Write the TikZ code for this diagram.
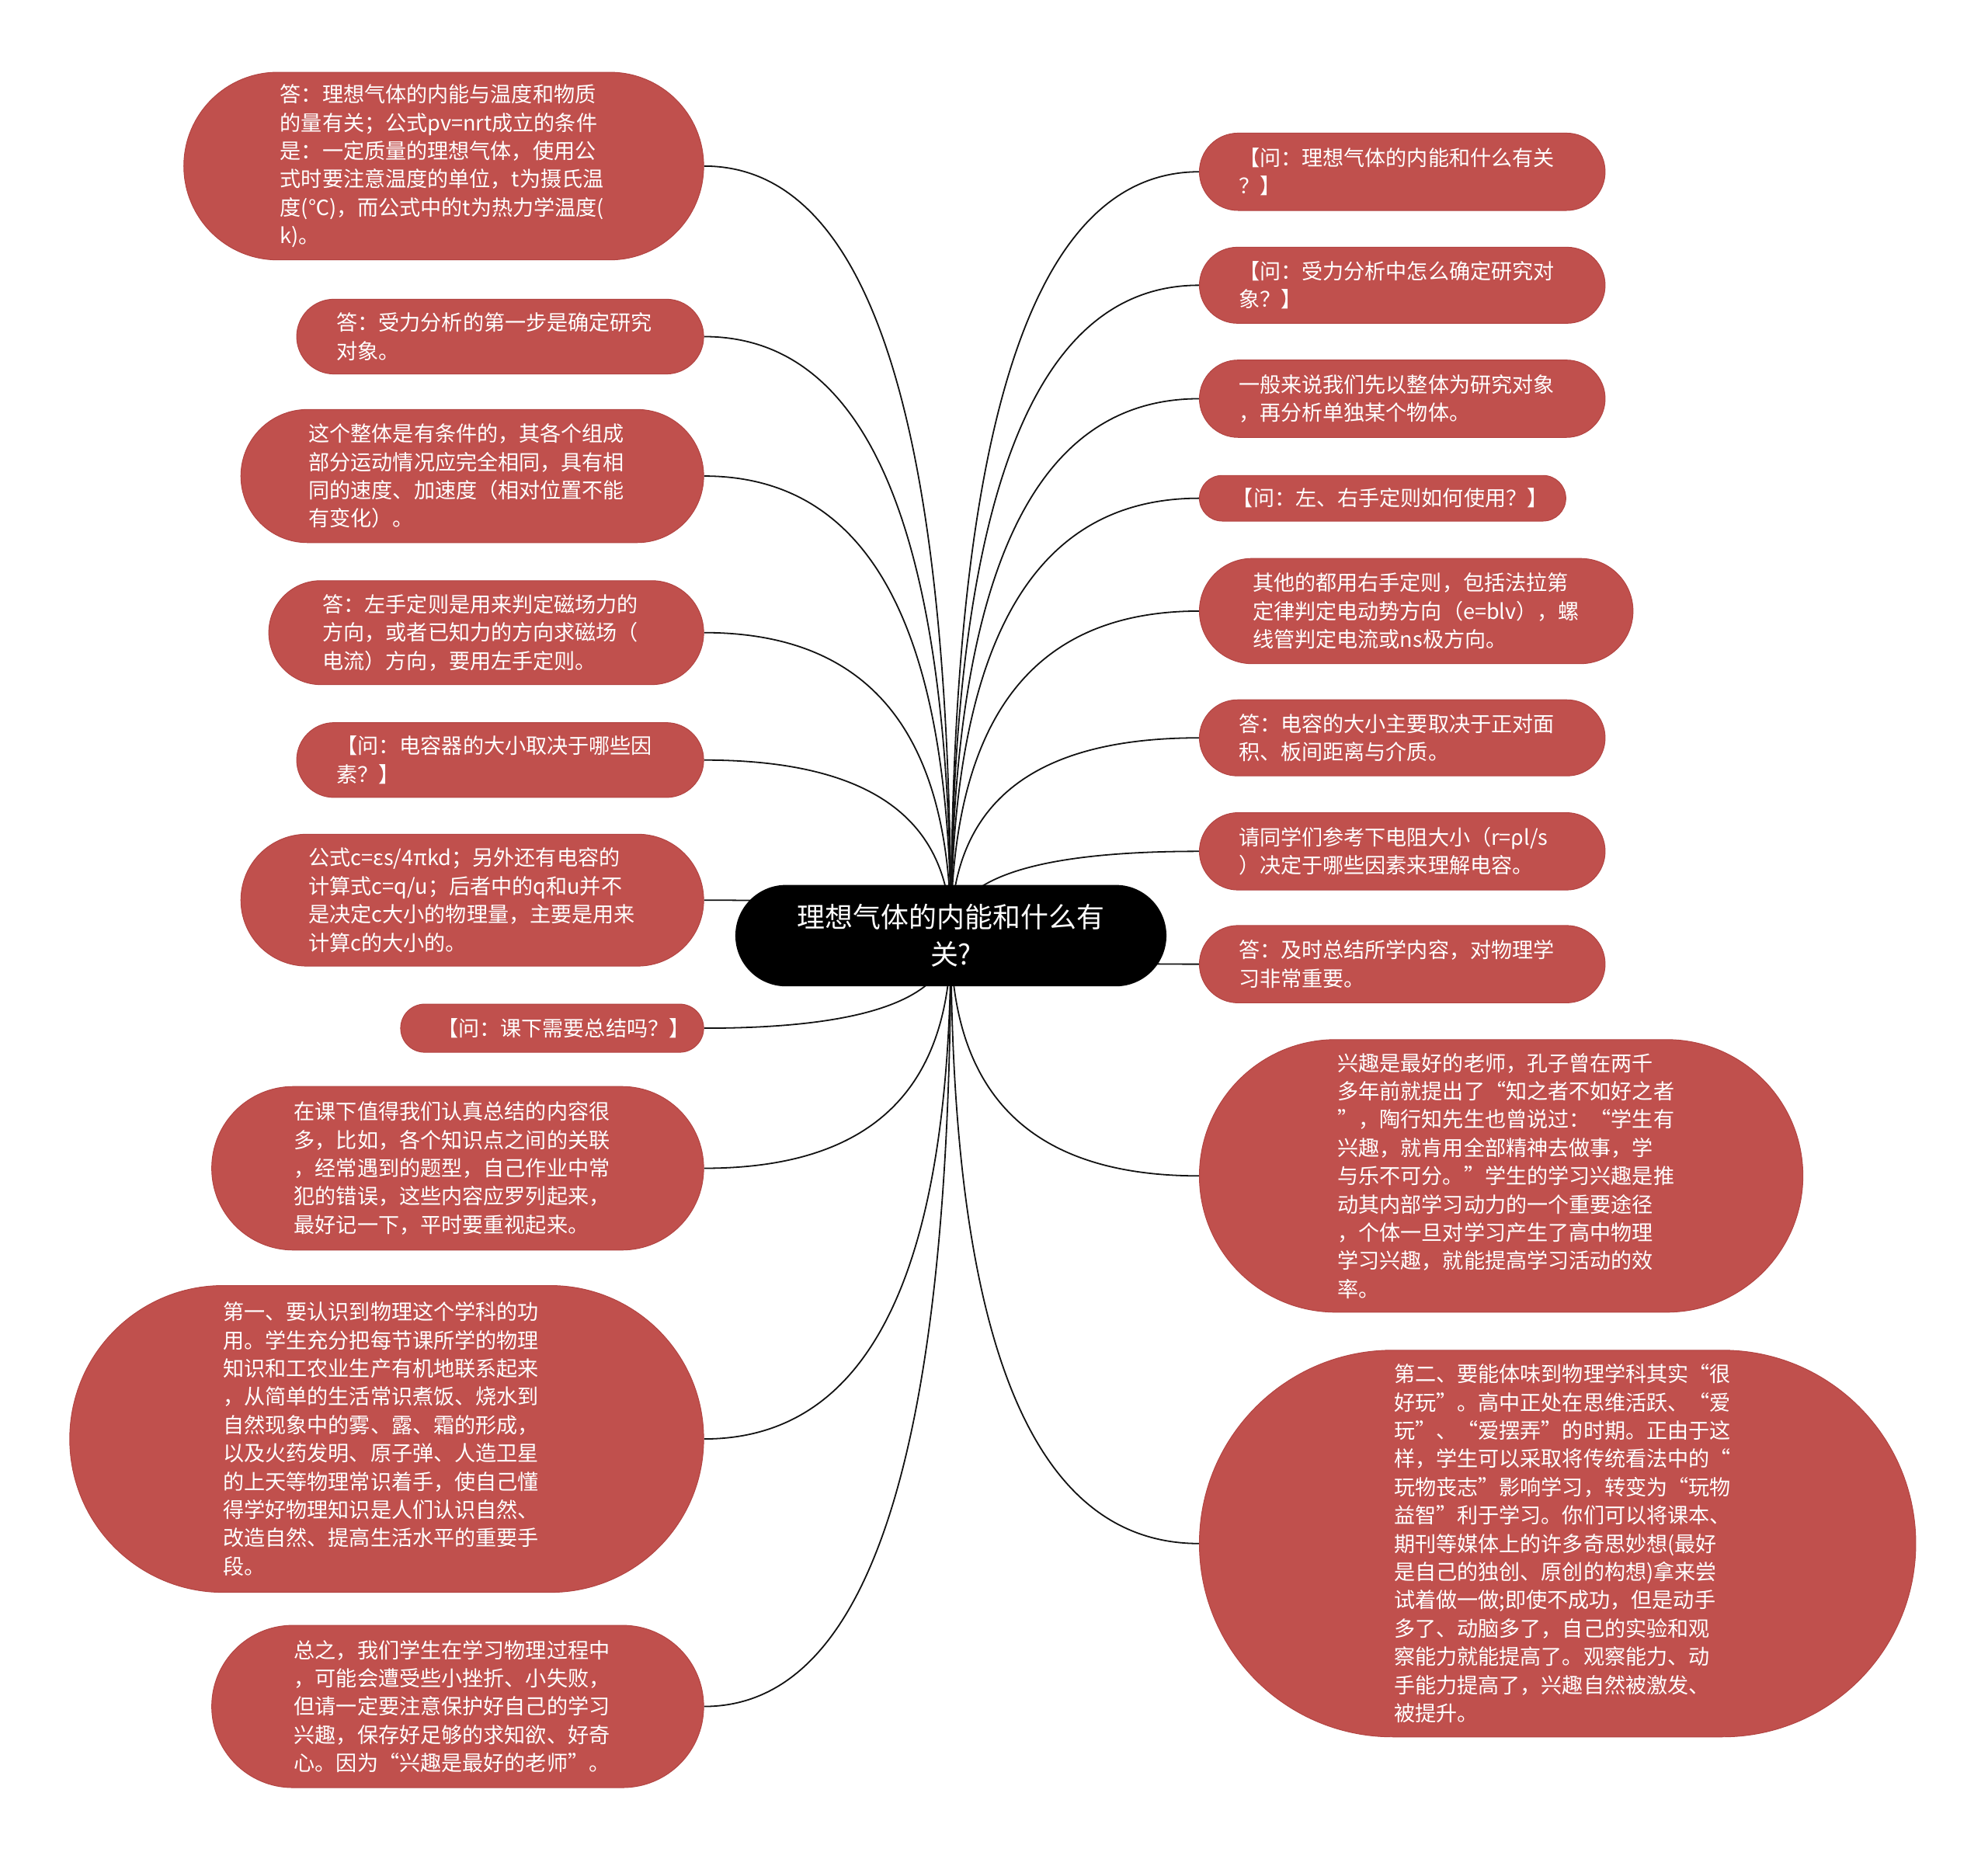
\documentclass[tikz,border=0pt]{standalone}
\usepackage{fontspec}
\setmainfont{Noto Sans CJK SC}
\usetikzlibrary{calc, backgrounds}
\definecolor{brick}{RGB}{192,80,77}
\definecolor{brickline}{RGB}{178,68,66}
\definecolor{ink}{RGB}{18,18,18}

\begin{document}
\begin{tikzpicture}[
  x=1pt, y=-1pt,
  topic/.style={fill=black, text=white, inner sep=0pt, align=center,
                font=\fontsize{22}{29}\selectfont, minimum width=340,
                minimum height=80, rounded corners=40},
  leaf/.style={fill=brick, draw=brickline, line width=0.6pt, text=white,
               inner sep=0pt, text width=258pt, align=left,
               font=\fontsize{16.6}{22.3}\selectfont},
  link/.style={draw=ink, line width=1.1pt,
               to path={.. controls ($(\tikztostart)!.67!(\tikztostart |- \tikztotarget)$)
                        and ($(\tikztotarget)!.67!(\tikztostart |- \tikztotarget)$) .. (\tikztotarget)}}]
  \useasboundingbox (0,0) rectangle (1568,1466);
  \node[topic] (c) at (750,738) {理想气体的内能和什么有\\关?};
  % left side
  \node[leaf, minimum width=410, minimum height=148, rounded corners=74] (l1) at (350,131)
    {答：理想气体的内能与温度和物质\\的量有关；公式pv=nrt成立的条件\\是：一定质量的理想气体，使用公\\式时要注意温度的单位，t为摄氏温\\度(℃)，而公式中的t为热力学温度(\\k)。};
  \node[leaf, minimum width=321, minimum height=59, rounded corners=29.5] (l2) at (394.5,265.5)
    {答：受力分析的第一步是确定研究\\对象。};
  \node[leaf, minimum width=365, minimum height=105, rounded corners=52.5] (l3) at (372.5,375.5)
    {这个整体是有条件的，其各个组成\\部分运动情况应完全相同，具有相\\同的速度、加速度（相对位置不能\\有变化）。};
  \node[leaf, minimum width=343, minimum height=82, rounded corners=41] (l4) at (383.5,499)
    {答：左手定则是用来判定磁场力的\\方向，或者已知力的方向求磁场（\\电流）方向，要用左手定则。};
  \node[leaf, minimum width=321, minimum height=59, rounded corners=29.5] (l5) at (394.5,599.5)
    {【问：电容器的大小取决于哪些因\\素？】};
  \node[leaf, minimum width=365, minimum height=104, rounded corners=52] (l6) at (372.5,710)
    {公式c=εs/4πkd；另外还有电容的\\计算式c=q/u；后者中的q和u并不\\是决定c大小的物理量，主要是用来\\计算c的大小的。};
  \node[leaf, minimum width=239, minimum height=38, rounded corners=19, text width=181pt] (l7) at (435.5,811)
    {【问：课下需要总结吗？】};
  \node[leaf, minimum width=388, minimum height=129, rounded corners=64.5] (l8) at (361,921.5)
    {在课下值得我们认真总结的内容很\\多，比如，各个知识点之间的关联\\，经常遇到的题型，自己作业中常\\犯的错误，这些内容应罗列起来，\\最好记一下，平时要重视起来。};
  \node[leaf, minimum width=500, minimum height=242, rounded corners=121] (l9) at (305,1135)
    {第一、要认识到物理这个学科的功\\用。学生充分把每节课所学的物理\\知识和工农业生产有机地联系起来\\，从简单的生活常识煮饭、烧水到\\自然现象中的雾、露、霜的形成，\\以及火药发明、原子弹、人造卫星\\的上天等物理常识着手，使自己懂\\得学好物理知识是人们认识自然、\\改造自然、提高生活水平的重要手\\段。};
  \node[leaf, minimum width=388, minimum height=128, rounded corners=64] (l10) at (361,1346)
    {总之，我们学生在学习物理过程中\\，可能会遭受些小挫折、小失败，\\但请一定要注意保护好自己的学习\\兴趣，保存好足够的求知欲、好奇\\心。因为“兴趣是最好的老师”。};
  % right side
  \node[leaf, minimum width=320, minimum height=61, rounded corners=30.5] (r1) at (1106,135.5)
    {【问：理想气体的内能和什么有关\\？】};
  \node[leaf, minimum width=320, minimum height=60, rounded corners=30] (r2) at (1106,225)
    {【问：受力分析中怎么确定研究对\\象？】};
  \node[leaf, minimum width=320, minimum height=61, rounded corners=30.5] (r3) at (1106,314.5)
    {一般来说我们先以整体为研究对象\\，再分析单独某个物体。};
  \node[leaf, minimum width=289, minimum height=36, rounded corners=18, text width=237pt] (r4) at (1090.5,393)
    {【问：左、右手定则如何使用？】};
  \node[leaf, minimum width=342, minimum height=83, rounded corners=41.5] (r5) at (1117,482)
    {其他的都用右手定则，包括法拉第\\定律判定电动势方向（e=blv），螺\\线管判定电流或ns极方向。};
  \node[leaf, minimum width=320, minimum height=60, rounded corners=30] (r6) at (1106,582)
    {答：电容的大小主要取决于正对面\\积、板间距离与介质。};
  \node[leaf, minimum width=320, minimum height=61, rounded corners=30.5] (r7) at (1106,671.5)
    {请同学们参考下电阻大小（r=ρl/s\\）决定于哪些因素来理解电容。};
  \node[leaf, minimum width=320, minimum height=61, rounded corners=30.5] (r8) at (1106,760.5)
    {答：及时总结所学内容，对物理学\\习非常重要。};
  \node[leaf, minimum width=476, minimum height=215, rounded corners=107.5] (r9) at (1184,927.5)
    {兴趣是最好的老师，孔子曾在两千\\多年前就提出了“知之者不如好之者\\”，陶行知先生也曾说过：“学生有\\兴趣，就肯用全部精神去做事，学\\与乐不可分。”学生的学习兴趣是推\\动其内部学习动力的一个重要途径\\，个体一旦对学习产生了高中物理\\学习兴趣，就能提高学习活动的效\\率。};
  \node[leaf, minimum width=565, minimum height=305, rounded corners=152.5] (r10) at (1228.5,1217.5)
    {第二、要能体味到物理学科其实“很\\好玩”。高中正处在思维活跃、“爱\\玩”、“爱摆弄”的时期。正由于这\\样，学生可以采取将传统看法中的“\\玩物丧志”影响学习，转变为“玩物\\益智”利于学习。你们可以将课本、\\期刊等媒体上的许多奇思妙想(最好\\是自己的独创、原创的构想)拿来尝\\试着做一做;即使不成功，但是动手\\多了、动脑多了，自己的实验和观\\察能力就能提高了。观察能力、动\\手能力提高了，兴趣自然被激发、\\被提升。};
  % connectors behind the nodes
  \begin{scope}[on background layer]
    \draw[link] (c.center) to (l1.east);
    \draw[link] (c.center) to (l2.east);
    \draw[link] (c.center) to (l3.east);
    \draw[link] (c.center) to (l4.east);
    \draw[link] (c.center) to (l5.east);
    \draw[link] (c.center) to (l6.east);
    \draw[link] (c.center) to (l7.east);
    \draw[link] (c.center) to (l8.east);
    \draw[link] (c.center) to (l9.east);
    \draw[link] (c.center) to (l10.east);
    \draw[link] (c.center) to (r1.west);
    \draw[link] (c.center) to (r2.west);
    \draw[link] (c.center) to (r3.west);
    \draw[link] (c.center) to (r4.west);
    \draw[link] (c.center) to (r5.west);
    \draw[link] (c.center) to (r6.west);
    \draw[link] (c.center) to (r7.west);
    \draw[link] (c.center) to (r8.west);
    \draw[link] (c.center) to (r9.west);
    \draw[link] (c.center) to (r10.west);
  \end{scope}
\end{tikzpicture}
\end{document}
